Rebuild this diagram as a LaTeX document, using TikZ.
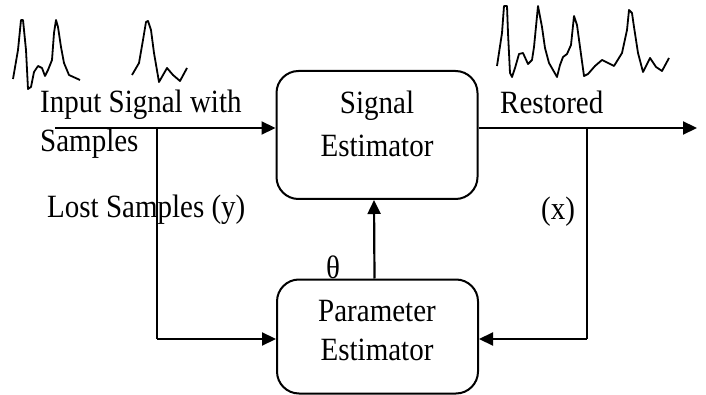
\documentclass[tikz,border=0pt]{standalone}
\usepackage{fontspec}
\setmainfont{Liberation Serif}
\usetikzlibrary{arrows.meta}
\newcommand\vstr[1]{\scalebox{1}[1.12]{#1}}
\begin{document}
\begin{tikzpicture}[x=1pt,y=-1pt,
  blk/.style={draw, line width=2pt, rounded corners=22pt, minimum width=201pt, inner sep=0pt},
  lbl/.style={font=\fontsize{29}{35}\selectfont, inner sep=0pt, anchor=base west},
  ctr/.style={font=\fontsize{29}{35}\selectfont, inner sep=0pt, anchor=base},
  conn/.style={line width=2.2pt},
  arr/.style={conn, -{Triangle[length=14pt,width=13pt]}},
  wave/.style={line width=1.8pt, line join=round}]
\useasboundingbox (0,0) rectangle (706,395);
% blocks
\node[blk, minimum height=128pt] (sig) at (377,135) {};
\node[blk, minimum height=114pt] (par) at (377.5,336.5) {};
% block texts
\node[ctr] (t1) at (377,114) {\vstr{Signal}};
\node[ctr] (t2) at (377,157) {\vstr{Estimator}};
\node[ctr] (t3) at (377,321) {\vstr{Parameter}};
\node[ctr] (t4) at (377,360) {\vstr{Estimator}};
% labels
\node[lbl] (in1) at (40,113) {\vstr{Input Signal with}};
\node[lbl] (in2) at (40,152) {\vstr{Samples}};
\node[lbl] (lost) at (47,218) {\vstr{Lost Samples (y)}};
\node[lbl] (rest) at (500,114) {\vstr{Restored}};
\node[lbl] (xl) at (541,220) {\vstr{(x)}};
\node[ctr] (th) at (333,278) {\vstr{θ}};
% connectors
\coordinate (start) at (55,128);
\coordinate (jl) at (157,128);
\coordinate (jr) at (587,128);
\coordinate (stop) at (697,128);
\coordinate (bl) at (157,339);
\coordinate (br) at (587,339);
\draw[arr] (start) -- (sig.west |- start);
\draw[arr] (sig.east |- stop) -- (stop);
\draw[conn] (jl) -- (bl);
\draw[arr] (bl) -- (par.west |- bl);
\draw[conn] (jr) -- (br);
\draw[arr] (br) -- (par.east |- br);
\draw[arr] ([xshift=-3pt]par.north) -- ([xshift=-3pt]sig.south);
% waveforms
\draw[wave] (13,79) -- (18,50) -- (21,20) -- (23,20) -- (26,50) -- (28,89) -- (31,87) -- (34,72) -- (38,66) -- (42,68) -- (45,76) -- (48,70) -- (52,60) -- (54,33) -- (56,20) -- (58,27) -- (61,47) -- (64,63) -- (69,75) -- (80,80);
\draw[wave] (132,75) -- (139,63) -- (143,40) -- (146,22) -- (148,21) -- (151,30) -- (154,53) -- (159,82) -- (167,68) -- (173,75) -- (180,81) -- (187,68);
\draw[wave] (497,66) -- (502,33) -- (504,6) -- (507,6) -- (508,33) -- (510,73) -- (512,77) -- (515,68) -- (519,54) -- (523,53) -- (528,64) -- (532,60) -- (534,47) -- (538,6) -- (542,27) -- (545,48) -- (549,63) -- (553,70) -- (557,77) -- (560,65) -- (563,57) -- (567,54) -- (571,45) -- (574,16) -- (577,25) -- (580,47) -- (584,76) -- (588,74) -- (595,66) -- (602,60) -- (608,63) -- (614,66) -- (622,53) -- (627,30) -- (629,10) -- (632,13) -- (634,27) -- (638,53) -- (643,72) -- (650,58) -- (656,67) -- (662,71) -- (669,58);
\end{tikzpicture}
\end{document}
